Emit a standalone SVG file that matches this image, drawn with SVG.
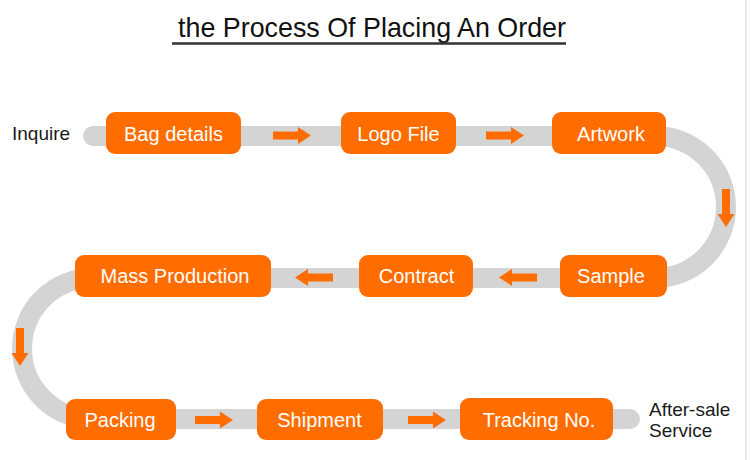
<svg xmlns="http://www.w3.org/2000/svg" width="750" height="460" viewBox="0 0 750 460">
  <style>
    .box { fill: #ff6c00; }
    .lbl { font-family: "Liberation Sans", Arial, sans-serif; font-size: 20px; fill: #ffffff; text-anchor: middle; }
    .side { font-family: "Liberation Sans", Arial, sans-serif; font-size: 19px; fill: #1a1a1a; }
    .track { fill: none; stroke: #d4d4d4; stroke-width: 20; stroke-linecap: round; }
    .arr { fill: #ff6c00; }
  </style>
  <defs>
    <polygon id="arrowR" points="0,-4 25,-4 25,-8.5 38,0 25,8.5 25,4 0,4"/>
  </defs>
  <rect x="0" y="0" width="750" height="460" fill="#ffffff"/>
  <line x1="746" y1="0" x2="746" y2="460" stroke="#e2e2e2" stroke-width="1.5"/>

  <g id="title">
    <text x="178" y="36.5" font-family="'Liberation Sans', Arial, sans-serif" font-size="28" fill="#111" textLength="388" lengthAdjust="spacingAndGlyphs">the Process Of Placing An Order</text>
    <line x1="172" y1="43.5" x2="566" y2="43.5" stroke="#333" stroke-width="2.5"/>
  </g>

  <g id="connectors">
    <path class="track" d="M 93 136 H 655 A 71 71 0 0 1 655 278 H 92.5 A 70.5 70.5 0 0 0 92.5 419 H 630"/>
    <use href="#arrowR" class="arr" transform="translate(273,135.5)"/>
    <use href="#arrowR" class="arr" transform="translate(486,135.5)"/>
    <use href="#arrowR" class="arr" transform="translate(726,189) rotate(90)"/>
    <use href="#arrowR" class="arr" transform="translate(537,277.5) rotate(180)"/>
    <use href="#arrowR" class="arr" transform="translate(333,277.5) rotate(180)"/>
    <use href="#arrowR" class="arr" transform="translate(20,328) rotate(90)"/>
    <use href="#arrowR" class="arr" transform="translate(195,420)"/>
    <use href="#arrowR" class="arr" transform="translate(408,420)"/>
  </g>

  <g id="inquire"><text class="side" x="12" y="140">Inquire</text></g>

  <g id="bag-details"><rect class="box" x="106" y="112" width="135" height="42" rx="9"/><text class="lbl" x="173.5" y="140.5">Bag details</text></g>
  <g id="logo-file"><rect class="box" x="341" y="112" width="115" height="42" rx="9"/><text class="lbl" x="398.5" y="140.5">Logo File</text></g>
  <g id="artwork"><rect class="box" x="552" y="112" width="114" height="42" rx="9"/><text class="lbl" x="611" y="140.5">Artwork</text></g>

  <g id="sample"><rect class="box" x="560" y="255" width="107" height="42" rx="9"/><text class="lbl" x="611" y="283">Sample</text></g>
  <g id="contract"><rect class="box" x="359" y="255" width="114" height="42" rx="9"/><text class="lbl" x="416.5" y="283">Contract</text></g>
  <g id="mass-production"><rect class="box" x="75" y="255" width="196" height="42" rx="9"/><text class="lbl" x="175" y="283">Mass Production</text></g>

  <g id="packing"><rect class="box" x="66" y="399" width="110" height="41" rx="9"/><text class="lbl" x="120" y="426.5">Packing</text></g>
  <g id="shipment"><rect class="box" x="257" y="399" width="126" height="41" rx="9"/><text class="lbl" x="319.5" y="426.5">Shipment</text></g>
  <g id="tracking-no"><rect class="box" x="460" y="398" width="153" height="42" rx="9"/><text class="lbl" x="539" y="426.5">Tracking No.</text></g>

  <g id="after-sale"><text class="side" x="649" y="416">After-sale</text><text class="side" x="649" y="437">Service</text></g>
</svg>
